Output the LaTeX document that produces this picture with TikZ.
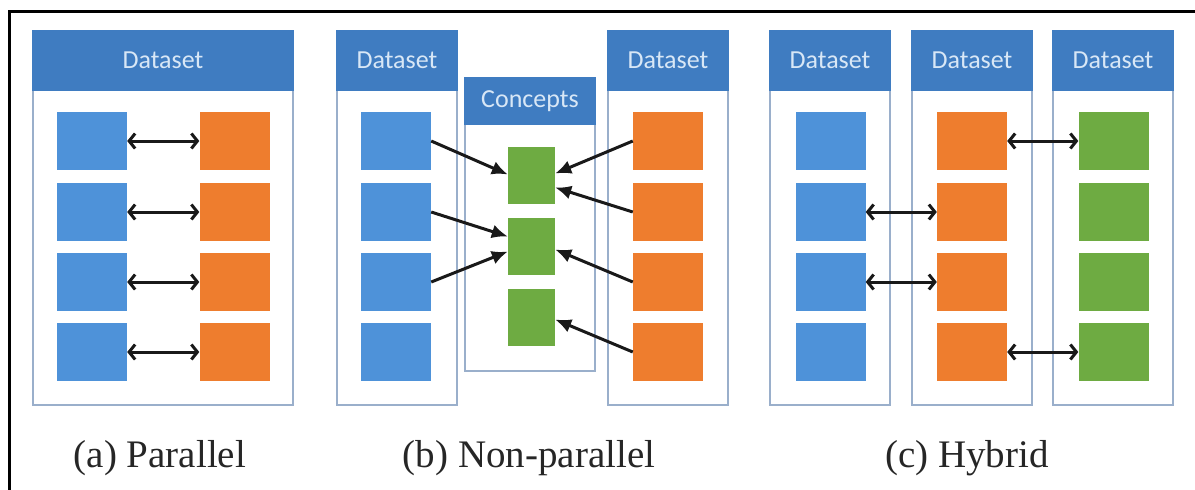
\documentclass[tikz,border=0pt]{standalone}
\usepackage{fontspec}
\setmainfont{Liberation Serif}
\newfontfamily\hdrfont{Carlito}
\usetikzlibrary{arrows.meta,calc}

\definecolor{hdrblue}{HTML}{3F7CC1}
\definecolor{hdrtext}{HTML}{D8E7F6}
\definecolor{boxline}{HTML}{9AAFCB}
\definecolor{sqblue}{HTML}{4E92D9}
\definecolor{sqorange}{HTML}{EE7D2E}
\definecolor{sqgreen}{HTML}{6EAB42}

\tikzset{
  box/.style={draw=boxline, line width=1.8pt, fill=white, inner sep=0pt},
  hdr/.style={fill=hdrblue, draw=hdrblue, line width=1.8pt, inner sep=0pt,
              text=hdrtext, font=\hdrfont\fontsize{26}{28}\selectfont},
  sq/.style={minimum width=70pt, minimum height=58pt, inner sep=0pt},
  gsq/.style={fill=sqgreen, minimum width=47pt, minimum height=57pt, inner sep=0pt},
  bidir/.style={line width=3pt, draw=black!90,
     {Straight Barb[length=6pt,width=15pt]}-{Straight Barb[length=6pt,width=15pt]}},
  oneway/.style={line width=3pt, draw=black!90, -{Latex[length=16pt,width=14pt]}},
  caption/.style={anchor=base, font=\fontsize{39}{42}\selectfont, text=black!85}
}

% dataset column: name, centre x, top y, width, height, header height, title
\newcommand{\dsbox}[7]{%
  \node[box, minimum width=#4pt, minimum height=#5pt, anchor=north] (#1) at (#2,#3) {};
  \node[hdr, minimum width=#4pt, minimum height=#6pt, anchor=north] (#1-h) at (#1.north) {#7};
}

\begin{document}
\begin{tikzpicture}[x=1pt,y=-1pt]
\useasboundingbox (0,0) rectangle (1195,490);

% outer frame (left and top edges)
\draw[line width=3pt] (9.5,490) -- (9.5,11.5) -- (1195,11.5);

% ---------- (a) Parallel ----------
\dsbox{A}{163}{30}{260}{374}{59}{Dataset}
\foreach \i/\y in {1/141,2/212,3/282,4/352}{
  \node[sq, fill=sqblue]   (A-b\i) at (92,\y) {};
  \node[sq, fill=sqorange] (A-o\i) at (234.5,\y) {};
  \draw[bidir] (A-b\i.east) -- (A-o\i.west);
}

% ---------- (b) Non-parallel ----------
\dsbox{BL}{397}{30}{120}{374}{59}{Dataset}
\dsbox{BR}{668}{30}{120}{374}{59}{Dataset}
\dsbox{BC}{530}{77}{130}{293}{46}{Concepts}
\foreach \i/\y in {1/141,2/212,3/282,4/352}{
  \node[sq, fill=sqblue]   (B-b\i) at (396,\y) {};
  \node[sq, fill=sqorange] (B-o\i) at (668,\y) {};
}
\node[gsq] (B-g1) at (531.5,175.5) {};
\node[gsq] (B-g2) at (531.5,246.5) {};
\node[gsq] (B-g3) at (531.5,317.5) {};

\draw[oneway] (B-b1.east) -- ($(B-g1.west)+(0,-1)$);
\draw[oneway] (B-b2.east) -- ($(B-g2.west)+(0,-10)$);
\draw[oneway] (B-b3.east) -- ($(B-g2.west)+(0,5)$);
\draw[oneway] (B-o1.west) -- ($(B-g1.east)+(0,-2)$);
\draw[oneway] (B-o2.west) -- ($(B-g1.east)+(0,12)$);
\draw[oneway] (B-o3.west) -- ($(B-g2.east)+(0,3)$);
\draw[oneway] (B-o4.west) -- ($(B-g3.east)+(0,2)$);

% ---------- (c) Hybrid ----------
\dsbox{C1}{830}{30}{120}{374}{59}{Dataset}
\dsbox{C2}{972}{30}{120}{374}{59}{Dataset}
\dsbox{C3}{1113}{30}{120}{374}{59}{Dataset}
\foreach \i/\y in {1/141,2/212,3/282,4/352}{
  \node[sq, fill=sqblue]   (C-b\i) at (830.5,\y) {};
  \node[sq, fill=sqorange] (C-o\i) at (972,\y) {};
  \node[sq, fill=sqgreen]  (C-g\i) at (1113.5,\y) {};
}
\draw[bidir] (C-o1.east) -- (C-g1.west);
\draw[bidir] (C-b2.east) -- (C-o2.west);
\draw[bidir] (C-b3.east) -- (C-o3.west);
\draw[bidir] (C-o4.east) -- (C-g4.west);

% ---------- captions ----------
\node[caption] (capA) at (160,467) {(a) Parallel};
\node[caption] (capB) at (529,467) {(b) Non-parallel};
\node[caption] (capC) at (967,467) {(c) Hybrid};
\end{tikzpicture}
\end{document}
